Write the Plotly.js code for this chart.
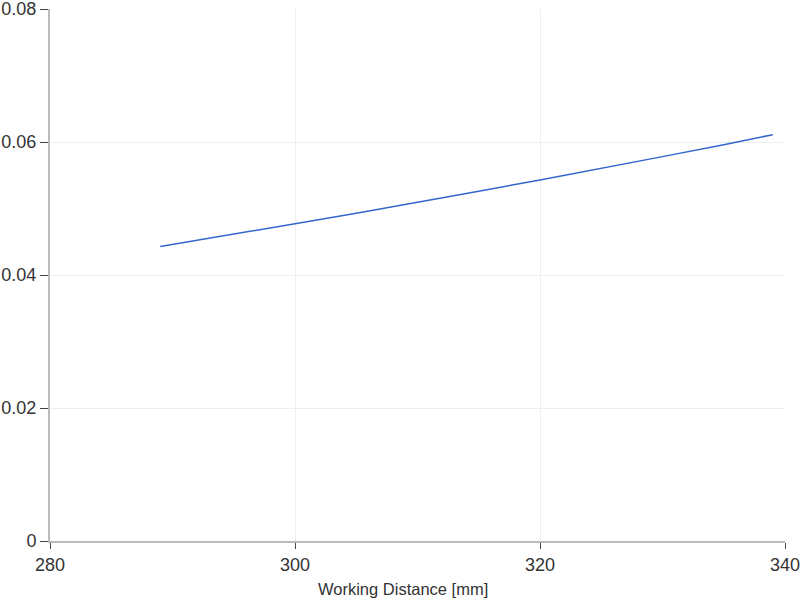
<!DOCTYPE html>
<html>
<head>
<meta charset="utf-8">
<script src="https://cdn.plot.ly/plotly-3.0.1.min.js"></script>
<style>html,body{margin:0;padding:0;background:#fff;}#chart{width:800px;height:602px;}</style>
</head>
<body>
<div id="chart"></div>
<script>
const workingDistance = [289, 295, 300, 305, 310, 315, 320, 325, 330, 335, 339];
const values = [0.0443, 0.0461, 0.0477, 0.0493, 0.0509, 0.0526, 0.0543, 0.0560, 0.0578, 0.0596, 0.0611];
const xTicks = [280, 300, 320, 340];
const yTicks = [0, 0.02, 0.04, 0.06, 0.08];
const yTickText = ['0', '0.02', '0.04', '0.06', '0.08'];
const xTitle = 'Working Distance [mm]';

Plotly.newPlot('chart', [{
  x: workingDistance, y: values, type: 'scatter', mode: 'lines',
  line: {color: '#3366cc', width: 1.5}, hoverinfo: 'x+y'
}], {
  width: 800, height: 602,
  margin: {l: 50, r: 15, t: 9, b: 61},
  paper_bgcolor: '#fff', plot_bgcolor: '#fff',
  font: {family: 'Liberation Sans, Arial, sans-serif', size: 18, color: '#333'},
  showlegend: false,
  xaxis: {
    range: [280, 340], tickvals: xTicks, ticktext: xTicks.map(String),
    showgrid: true, gridcolor: '#eeeeee', zeroline: false,
    showline: true, linecolor: '#bbbbbb', linewidth: 2,
    ticks: 'outside', ticklen: 6, tickcolor: '#444', tickwidth: 1,
    tickfont: {size: 18, color: '#333'}, ticklabeloverflow: 'allow'
  },
  yaxis: {
    range: [0, 0.08], tickvals: yTicks, ticktext: yTickText,
    showgrid: true, gridcolor: '#eeeeee', zeroline: false,
    showline: true, linecolor: '#bbbbbb', linewidth: 2,
    ticks: 'outside', ticklen: 8, tickcolor: '#444', tickwidth: 1,
    tickfont: {size: 18, color: '#333'}, ticklabeloverflow: 'allow'
  },
  annotations: [{
    text: xTitle, xref: 'paper', yref: 'paper', x: 0.48, y: -0.09,
    xanchor: 'center', yanchor: 'middle', showarrow: false,
    font: {size: 16.5, color: '#333'}
  }]
}, {displayModeBar: false, staticPlot: true});
</script>
</body>
</html>
